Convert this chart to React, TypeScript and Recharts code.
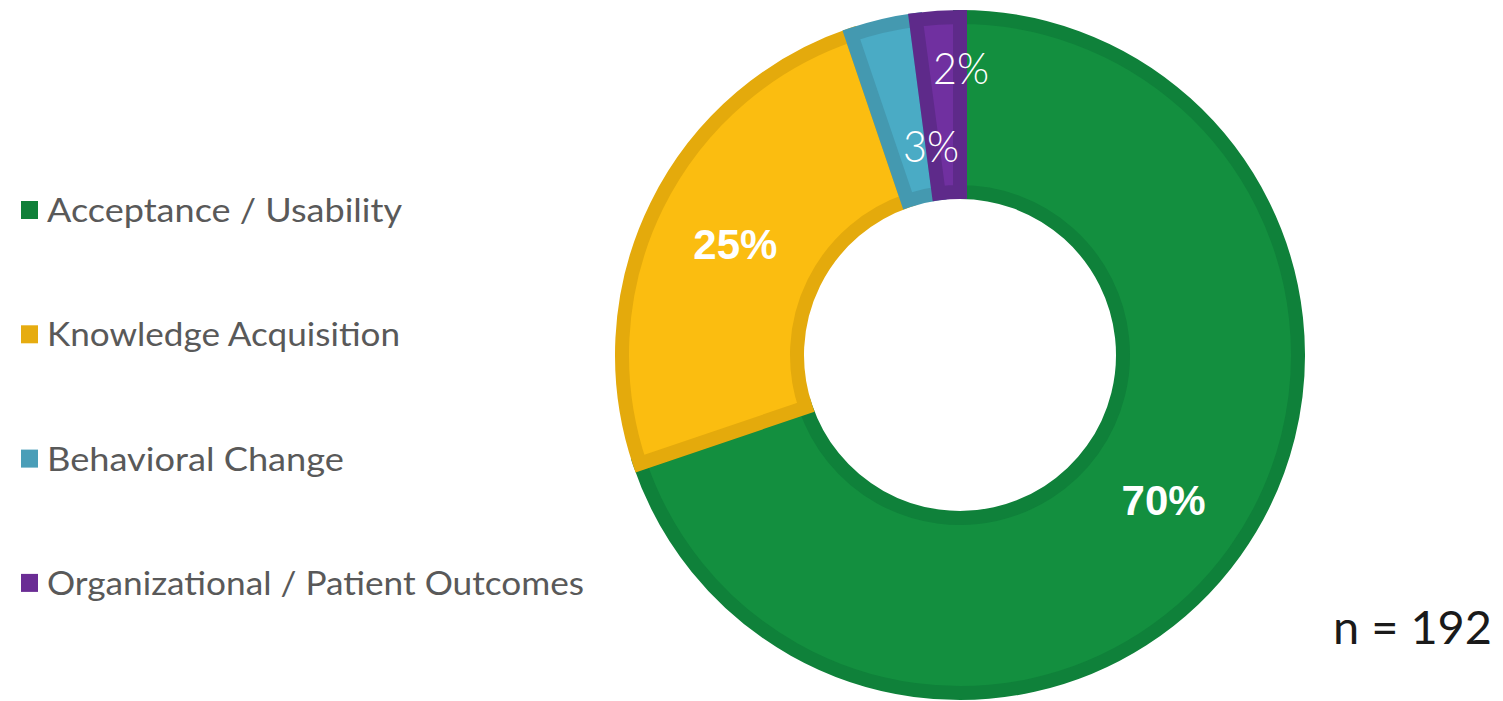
import React from 'react';
import { PieChart, Pie, Cell, Legend } from 'recharts';

const categories = ['Acceptance / Usability', 'Knowledge Acquisition', 'Behavioral Change', 'Organizational / Patient Outcomes'];
const counts = [134, 48, 6, 4];
const fills = ['#138F3F', '#FBBD10', '#4AABC5', '#7030A0'];
const strokes = ['#0F813A', '#E4AA0C', '#4499B0', '#5E2A8A'];
const legendColors = ['#108039', '#E6AC10', '#4A9EB8', '#6A2C94'];
const legendWidths = [355, 353, 297, 537];
const nLabel = 'n = 192';

const data = categories.map((name, i) => ({ name, value: counts[i] }));
const total = counts.reduce((a, b) => a + b, 0);
const RADIAN = Math.PI / 180;

const renderLabel = (props: any) => {
  const { cx, cy, midAngle, innerRadius, outerRadius, index, value } = props;
  const pct = Math.round((value / total) * 100) + '%';
  const big = index < 2;
  const factor = big ? 0.5 : index === 2 ? 0.3 : 0.72;
  const r = innerRadius + (outerRadius - innerRadius) * factor;
  const x = cx + r * Math.cos(-midAngle * RADIAN) + (big ? 0 : 20);
  const y = cy + r * Math.sin(-midAngle * RADIAN);
  return (
    <text
      x={x}
      y={y}
      fill="#FFFFFF"
      textAnchor="middle"
      dominantBaseline="central"
      fontFamily={big ? 'Liberation Sans, Arial, sans-serif' : 'Lato, DejaVu Sans, sans-serif'}
      fontWeight={big ? 700 : 300}
      fontSize={big ? 42 : 44}
      textLength={big ? undefined : 56}
      lengthAdjust="spacingAndGlyphs"
    >
      {pct}
    </text>
  );
};

const renderLegend = () => (
  <svg width={620} height={701}>
    {categories.map((c, i) => {
      const cyRow = 210 + i * 124.3;
      return (
        <g key={c}>
          <rect x={21} y={cyRow - 9} width={17} height={18} fill={legendColors[i]} />
          <text
            x={47}
            y={cyRow + 12}
            fontFamily="Lato, 'Open Sans', sans-serif"
            fontSize={33}
            fill="#595959"
            textLength={legendWidths[i]}
            lengthAdjust="spacingAndGlyphs"
          >
            {c}
          </text>
        </g>
      );
    })}
  </svg>
);

export default function App() {
  return (
    <div style={{ position: 'absolute', left: 0, top: 0, width: 1503, height: 701, background: '#FFFFFF' }}>
      <PieChart width={1503} height={701} margin={{ top: 0, right: 0, bottom: 0, left: 0 }}>
        <Pie
          data={data}
          dataKey="value"
          nameKey="name"
          cx={960}
          cy={355}
          innerRadius={163}
          outerRadius={338}
          startAngle={90}
          endAngle={-270}
          stroke="none"
          label={renderLabel}
          labelLine={false}
          isAnimationActive={false}
        >
          {data.map((d, i) => (
            <Cell key={d.name} fill={fills[i]} stroke={strokes[i]} strokeWidth={14} />
          ))}
        </Pie>
        <Legend
          content={renderLegend}
          wrapperStyle={{ position: 'absolute', left: 0, top: 0, width: 620, height: 701 }}
        />
      </PieChart>
      <svg style={{ position: 'absolute', left: 0, top: 0 }} width={1503} height={701} pointerEvents="none">
        <text
          x={1333}
          y={644}
          fontFamily="Lato, 'Open Sans', sans-serif"
          fontSize={46}
          fill="#1A1A1A"
          textLength={159}
          lengthAdjust="spacingAndGlyphs"
        >
          {nLabel}
        </text>
      </svg>
    </div>
  );
}
